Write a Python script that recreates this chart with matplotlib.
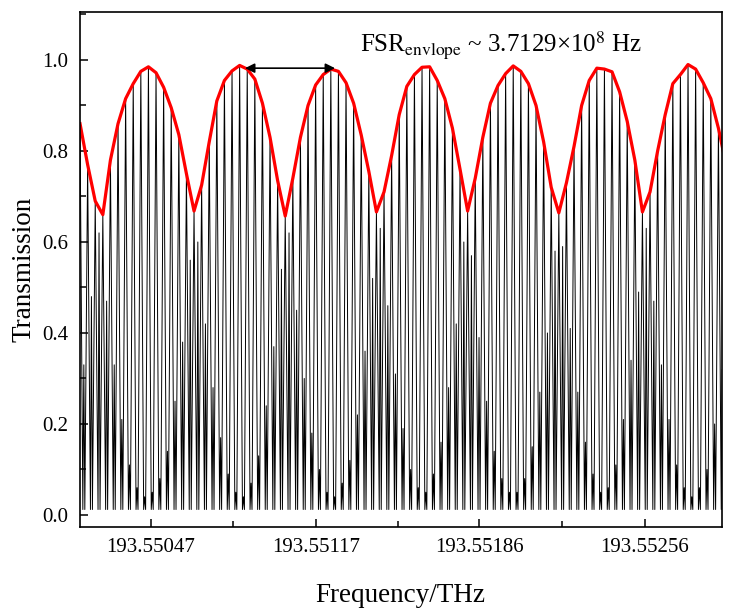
import numpy as np
import matplotlib
matplotlib.use("Agg")
import matplotlib.pyplot as plt
from matplotlib.ticker import FixedLocator, MultipleLocator

plt.rcParams["font.family"] = ["Liberation Serif", "DejaVu Serif"]
plt.rcParams["mathtext.fontset"] = "stix"

# frequency of first / last main fringe (THz)
f_first = 193.5501709
f_last = 193.5529040

# tops of the main fringes (these also define the red envelope)
tall_peaks = [0.86, 0.77, 0.69, 0.66, 0.78, 0.86, 0.915, 0.948, 0.975, 0.985,
              0.972, 0.94, 0.895, 0.836, 0.75, 0.668, 0.725, 0.82, 0.91, 0.955,
              0.976, 0.988, 0.98, 0.958, 0.905, 0.83, 0.735, 0.657, 0.74, 0.83,
              0.9, 0.945, 0.968, 0.98, 0.975, 0.95, 0.905, 0.835, 0.755, 0.666,
              0.71, 0.79, 0.88, 0.942, 0.968, 0.984, 0.985, 0.955, 0.915, 0.85,
              0.76, 0.668, 0.74, 0.83, 0.905, 0.944, 0.97, 0.987, 0.975, 0.948,
              0.9, 0.82, 0.72, 0.664, 0.73, 0.81, 0.9, 0.955, 0.982, 0.98,
              0.974, 0.93, 0.865, 0.78, 0.666, 0.71, 0.8, 0.88, 0.948, 0.968,
              0.99, 0.98, 0.95, 0.915, 0.85, 0.77]

# smaller peaks sitting between the main fringes
side_peaks = [0.33, 0.48, 0.62, 0.47, 0.33, 0.21, 0.11, 0.06, 0.04, 0.05,
              0.08, 0.14, 0.25, 0.38, 0.56, 0.6, 0.42, 0.28, 0.17, 0.09,
              0.05, 0.04, 0.07, 0.13, 0.24, 0.37, 0.54, 0.62, 0.45, 0.3,
              0.18, 0.1, 0.05, 0.04, 0.07, 0.12, 0.22, 0.36, 0.52, 0.63,
              0.46, 0.31, 0.19, 0.1, 0.06, 0.05, 0.09, 0.16, 0.28, 0.42,
              0.6, 0.57, 0.39, 0.25, 0.14, 0.08, 0.05, 0.05, 0.08, 0.15,
              0.27, 0.4, 0.58, 0.59, 0.41, 0.27, 0.16, 0.09, 0.05, 0.06,
              0.11, 0.21, 0.34, 0.49, 0.63, 0.47, 0.33, 0.21, 0.11, 0.06,
              0.04, 0.06, 0.1, 0.2, 0.32]

trough_floor = 0.012

xtick_vals = [193.55047, 193.55117, 193.55186, 193.55256]
xtick_labels = ["193.55047", "193.55117", "193.55186", "193.55256"]
xminor_vals = [193.55082, 193.551515, 193.55221]

# FSR arrow ends (THz) and level
arrow_f = (193.5508690, 193.5512497)
arrow_y = 0.982

peak_f = np.linspace(f_first, f_last, len(tall_peaks))
step = peak_f[1] - peak_f[0]

# main fringe: wide base; side peak: narrow spike in the gap
xs, ys = [], []
for i, f in enumerate(peak_f):
    xs += [f - 0.37 * step, f, f + 0.37 * step]
    ys += [trough_floor, tall_peaks[i], trough_floor]
    if i < len(side_peaks):
        xs.append(f + 0.5 * step)
        ys.append(side_peaks[i])

fig = plt.figure(figsize=(7.31, 6.11), dpi=100)
ax = fig.add_axes([0.1088, 0.1375, 0.8789, 0.8429])

ax.plot(xs, ys, color="black", lw=0.7)
ax.plot(peak_f, tall_peaks, color="#ff0000", lw=2.3, solid_joinstyle="round")

ax.annotate("", xy=(arrow_f[0], arrow_y), xytext=(arrow_f[1], arrow_y),
            arrowprops=dict(arrowstyle="<|-|>", color="black", lw=1.2,
                            mutation_scale=14, shrinkA=0, shrinkB=0))
ax.text(193.5513555, 1.033, r"FSR$_{\rm envlope}$ ~ 3.7129×10$^{8}$ Hz",
        fontsize=18, ha="left", va="center")

ax.set_xlim(193.5501688, 193.552887)
ax.set_ylim(-0.0264, 1.1055)
ax.xaxis.set_major_locator(FixedLocator(xtick_vals))
ax.set_xticklabels(xtick_labels)
ax.xaxis.set_minor_locator(FixedLocator(xminor_vals))
ax.yaxis.set_major_locator(MultipleLocator(0.2))
ax.yaxis.set_minor_locator(MultipleLocator(0.1))
ax.tick_params(which="both", direction="in", labelsize=15, width=1.1)
ax.tick_params(which="major", length=6, pad=8)
ax.tick_params(which="minor", length=4)
for s in ax.spines.values():
    s.set_linewidth(1.2)

ax.set_xlabel("Frequency/THz", fontsize=19.5, labelpad=19)
ax.set_ylabel("Transmission", fontsize=19.5, labelpad=4)

fig.savefig("out.png", dpi=100)
